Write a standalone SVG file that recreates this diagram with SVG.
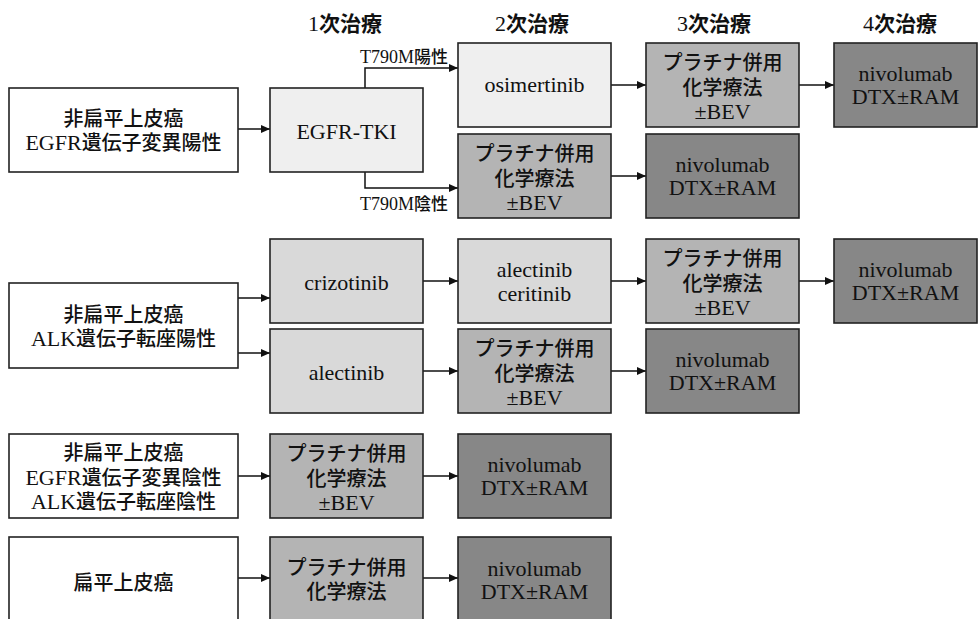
<svg xmlns="http://www.w3.org/2000/svg" width="979" height="619" viewBox="0 0 979 619">
<defs>
<style>
.box{stroke:#222;stroke-width:1.6}
.w{fill:#ffffff}.l1{fill:#efefef}.l2{fill:#d9d9d9}.p{fill:#b4b4b4}.n{fill:#878787}
.t{font-family:"Liberation Serif","Times New Roman",serif;font-size:22px;font-weight:400;text-anchor:middle;fill:#111}
.j{font-family:"Noto Sans CJK JP","Noto Sans CJK SC",sans-serif;font-size:20px;font-weight:500}
.hj{font-family:"Noto Sans CJK JP","Noto Sans CJK SC",sans-serif;font-size:21px;font-weight:700}
.lb{font-family:"Liberation Serif","Times New Roman",serif;font-size:18px;font-weight:400;text-anchor:middle;fill:#111}
.lj{font-family:"Noto Sans CJK JP","Noto Sans CJK SC",sans-serif;font-size:17px;font-weight:500}
.c{fill:none;stroke:#111;stroke-width:1.5;marker-end:url(#ah)}
</style>
<marker id="ah" markerWidth="10" markerHeight="8" refX="9" refY="4" orient="auto" markerUnits="userSpaceOnUse">
<path d="M0,0 L9,4 L0,8 z" fill="#111"/>
</marker>
</defs>
<rect width="979" height="619" fill="#fff"/>

<g id="headers">
<text class="t" x="345" y="31">1<tspan class="hj">次治療</tspan></text>
<text class="t" x="532" y="31">2<tspan class="hj">次治療</tspan></text>
<text class="t" x="714" y="31">3<tspan class="hj">次治療</tspan></text>
<text class="t" x="900" y="31">4<tspan class="hj">次治療</tspan></text>
</g>

<g id="connectors">
<path class="c" d="M238,129 H270"/>
<path class="c" d="M365,88 V68 H458"/>
<path class="c" d="M365,172 V188 H458"/>
<path class="c" d="M611,85 H646"/>
<path class="c" d="M799,85 H834"/>
<path class="c" d="M611,176 H646"/>
<path class="c" d="M238,298 H270"/>
<path class="c" d="M238,353 H270"/>
<path class="c" d="M423,281 H458"/>
<path class="c" d="M611,281 H646"/>
<path class="c" d="M799,281 H834"/>
<path class="c" d="M423,371 H458"/>
<path class="c" d="M611,371 H646"/>
<path class="c" d="M238,476 H270"/>
<path class="c" d="M423,476 H458"/>
<path class="c" d="M238,578 H270"/>
<path class="c" d="M423,578 H458"/>
<text class="lb" x="404" y="63">T790M<tspan class="lj">陽性</tspan></text>
<text class="lb" x="404" y="210">T790M<tspan class="lj">陰性</tspan></text>
</g>

<g id="egfr-pos">
<rect class="box w" x="9" y="88" width="229" height="84"/>
<text class="t" x="123.5" y="126"><tspan class="j">非扁平上皮癌</tspan></text>
<text class="t" x="123.5" y="150">EGFR<tspan class="j">遺伝子変異陽性</tspan></text>
</g>
<g id="egfr-tki">
<rect class="box l1" x="270" y="88" width="153" height="84"/>
<text class="t" x="346.5" y="139">EGFR-TKI</text>
</g>
<g id="osimertinib">
<rect class="box l1" x="458" y="43" width="153" height="84"/>
<text class="t" x="534.5" y="92">osimertinib</text>
</g>
<g id="plat-1a">
<rect class="box p" x="646" y="43" width="153" height="84"/>
<text class="t" x="722.5" y="70"><tspan class="j">プラチナ併用</tspan></text>
<text class="t" x="722.5" y="95"><tspan class="j">化学療法</tspan></text>
<text class="t" x="722.5" y="119">±BEV</text>
</g>
<g id="nivo-1a">
<rect class="box n" x="834" y="43" width="143" height="84"/>
<text class="t" x="905.5" y="81">nivolumab</text>
<text class="t" x="905.5" y="104">DTX±RAM</text>
</g>
<g id="plat-1b">
<rect class="box p" x="458" y="134" width="153" height="84"/>
<text class="t" x="534.5" y="161"><tspan class="j">プラチナ併用</tspan></text>
<text class="t" x="534.5" y="186"><tspan class="j">化学療法</tspan></text>
<text class="t" x="534.5" y="210">±BEV</text>
</g>
<g id="nivo-1b">
<rect class="box n" x="646" y="134" width="153" height="84"/>
<text class="t" x="722.5" y="172">nivolumab</text>
<text class="t" x="722.5" y="195">DTX±RAM</text>
</g>

<g id="alk-pos">
<rect class="box w" x="9" y="283" width="229" height="85"/>
<text class="t" x="123.5" y="322"><tspan class="j">非扁平上皮癌</tspan></text>
<text class="t" x="123.5" y="346">ALK<tspan class="j">遺伝子転座陽性</tspan></text>
</g>
<g id="crizotinib">
<rect class="box l2" x="270" y="239" width="153" height="84"/>
<text class="t" x="346.5" y="290">crizotinib</text>
</g>
<g id="alec-ceri">
<rect class="box l2" x="458" y="239" width="153" height="84"/>
<text class="t" x="534.5" y="277">alectinib</text>
<text class="t" x="534.5" y="301">ceritinib</text>
</g>
<g id="plat-2a">
<rect class="box p" x="646" y="239" width="153" height="84"/>
<text class="t" x="722.5" y="266"><tspan class="j">プラチナ併用</tspan></text>
<text class="t" x="722.5" y="291"><tspan class="j">化学療法</tspan></text>
<text class="t" x="722.5" y="315">±BEV</text>
</g>
<g id="nivo-2a">
<rect class="box n" x="834" y="239" width="143" height="84"/>
<text class="t" x="905.5" y="277">nivolumab</text>
<text class="t" x="905.5" y="300">DTX±RAM</text>
</g>
<g id="alectinib">
<rect class="box l2" x="270" y="329" width="153" height="84"/>
<text class="t" x="346.5" y="380">alectinib</text>
</g>
<g id="plat-2b">
<rect class="box p" x="458" y="329" width="153" height="84"/>
<text class="t" x="534.5" y="356"><tspan class="j">プラチナ併用</tspan></text>
<text class="t" x="534.5" y="381"><tspan class="j">化学療法</tspan></text>
<text class="t" x="534.5" y="405">±BEV</text>
</g>
<g id="nivo-2b">
<rect class="box n" x="646" y="329" width="153" height="84"/>
<text class="t" x="722.5" y="367">nivolumab</text>
<text class="t" x="722.5" y="390">DTX±RAM</text>
</g>

<g id="neg">
<rect class="box w" x="9" y="434" width="229" height="84"/>
<text class="t" x="123.5" y="460"><tspan class="j">非扁平上皮癌</tspan></text>
<text class="t" x="123.5" y="485">EGFR<tspan class="j">遺伝子変異陰性</tspan></text>
<text class="t" x="123.5" y="509">ALK<tspan class="j">遺伝子転座陰性</tspan></text>
</g>
<g id="plat-3">
<rect class="box p" x="270" y="434" width="153" height="84"/>
<text class="t" x="346.5" y="461"><tspan class="j">プラチナ併用</tspan></text>
<text class="t" x="346.5" y="486"><tspan class="j">化学療法</tspan></text>
<text class="t" x="346.5" y="510">±BEV</text>
</g>
<g id="nivo-3">
<rect class="box n" x="458" y="434" width="153" height="84"/>
<text class="t" x="534.5" y="472">nivolumab</text>
<text class="t" x="534.5" y="495">DTX±RAM</text>
</g>

<g id="squamous">
<rect class="box w" x="9" y="537" width="229" height="90"/>
<text class="t" x="123.5" y="590"><tspan class="j">扁平上皮癌</tspan></text>
</g>
<g id="plat-4">
<rect class="box p" x="270" y="537" width="153" height="90"/>
<text class="t" x="346.5" y="575"><tspan class="j">プラチナ併用</tspan></text>
<text class="t" x="346.5" y="599"><tspan class="j">化学療法</tspan></text>
</g>
<g id="nivo-4">
<rect class="box n" x="458" y="537" width="153" height="90"/>
<text class="t" x="534.5" y="576">nivolumab</text>
<text class="t" x="534.5" y="599">DTX±RAM</text>
</g>
</svg>
